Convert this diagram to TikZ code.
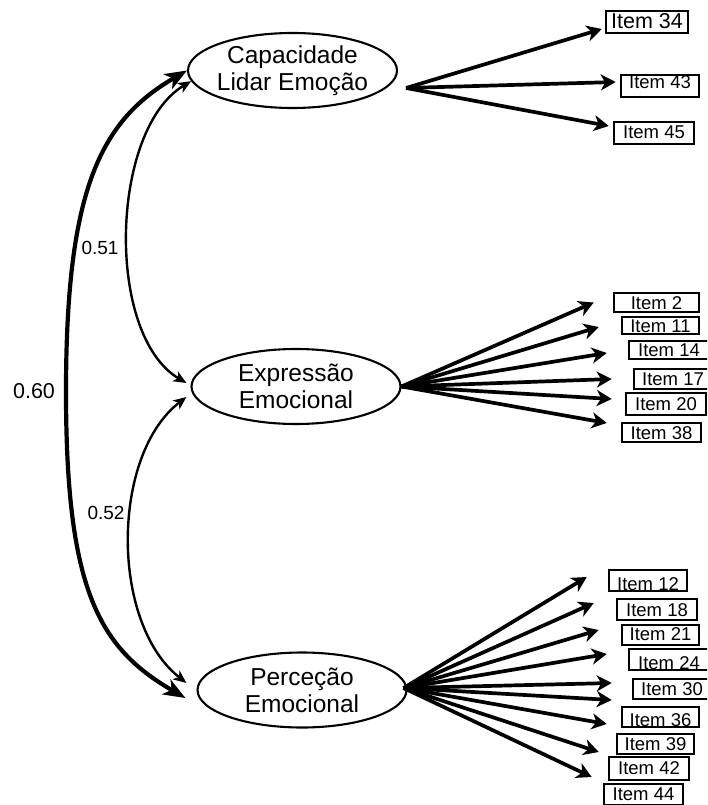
\documentclass[tikz,border=0pt]{standalone}
\usepackage{fontspec}
\setmainfont{Liberation Sans}
\usetikzlibrary{arrows.meta,shapes.geometric}
\begin{document}
\begin{tikzpicture}[x=1pt,y=-1pt,
  latent/.style={ellipse, draw, line width=2.1pt, minimum width=209pt, minimum height=75pt,
    inner xsep=-4pt, inner ysep=0pt, align=center, font=\fontsize{24.5}{27}\selectfont},
  itembox/.style={rectangle, draw, line width=2.5pt, inner sep=0pt,
    text height=13.5pt, text depth=0pt, font=\fontsize{18.5}{20}\selectfont},
  fan/.style={line width=3.7pt, -{Stealth[length=15pt,width=16pt,inset=4.5pt]}},
  covthin/.style={line width=2.4pt,
    {Stealth[length=13pt,width=11pt,inset=3.5pt]}-{Stealth[length=13pt,width=11pt,inset=3.5pt]}},
  covthick/.style={line width=4.2pt,
    {Stealth[length=22pt,width=17pt,inset=6pt]}-{Stealth[length=22pt,width=17pt,inset=6pt]}},
  coef/.style={inner sep=0pt, font=\fontsize{19}{21}\selectfont}
]
\clip (0,0) rectangle (707,805);

% latent factors
\node[latent] (cap) at (292.5,70.5) {Capacidade\\Lidar Emoção};
\node[latent] (exp) at (296,386.5) {Expressão\\Emocional};
\node[latent] (per) at (302,690) {Perceção\\Emocional};

% observed items: name / centre x / centre y / width / height / text raise
\node[itembox, minimum width=82pt, minimum height=22pt, font=\fontsize{21.5}{23}\selectfont]
  (i34) at (647,22) {Item 34};
\foreach \n/\cx/\cy/\w/\h/\r in {
    43/660/86/78/22/4, 45/654/133/80/22/1,
    2/656.5/302.5/85/19/0, 11/660.5/325.5/77/17/0, 14/669/350/80/18/0,
    17/673/379/78/20/0, 20/666/404/80/22/0, 38/661.5/432.5/79/19/0,
    12/648/580.5/78/21/-3, 18/657/609.5/80/21/0, 21/660.5/635/77/20/1,
    24/669/659.5/80/21/-3, 30/672/689/78/20/0, 36/660.5/717/77/20/-3,
    39/655.5/744/77/20/0, 42/649/768.5/80/23/1, 44/643.5/794.5/79/21/1}
  \node[itembox, minimum width=\w pt, minimum height=\h pt] (i\n) at (\cx,\cy)
    {\raisebox{\r pt}{Item \n}};

% loadings of Capacidade Lidar Emoção
\coordinate (capfan) at ([xshift=8pt,yshift=-17.5pt]cap.east);
\foreach \n/\dx/\dy in {34/-3/7, 43/-4/-4, 45/-4/-7}
  \draw[fan] (capfan) -- ([shift={(\dx,\dy)}]i\n.west);

% loadings of Expressão Emocional
\foreach \n/\dx/\dy in {2/-19/0, 11/-22/1.5, 14/-21/3, 17/-21/0, 20/-13/-5, 38/-14/-9.5}
  \draw[fan] (exp.east) -- ([shift={(\dx,\dy)}]i\n.west);

% loadings of Perceção Emocional
\foreach \n/\dx/\dy in {12/-21/-3.5, 18/-22/-6.5, 21/-22/-5, 24/-21/-5.5, 30/-20/-6,
    36/-9/-17, 39/-9/-20, 42/-9/-16.5, 44/-11/-17.5}
  \draw[fan] ([xshift=-4pt,yshift=2pt]per.east) -- ([shift={(\dx,\dy)}]i\n.west);

% correlations between factors
\draw[covthick] (cap.west) .. controls (100,121) and (66,190) .. (66,392)
  .. controls (66,590) and (99,648) .. ([shift={(-11,8)}]per.west);
\draw[covthin] (cap.186) .. controls (110,130) and (105,335) .. ([shift={(-4,-3.5)}]exp.west);
\draw[covthin] ([shift={(-4,10.5)}]exp.west) .. controls (111,455) and (110,623) .. ([shift={(-10,-7)}]per.west);

\node[coef] (r51) at (100,248) {0.51};
\node[coef] (r52) at (106,513) {0.52};
\node[coef, font=\fontsize{21.5}{23}\selectfont] (r60) at (34,391) {0.60};
\end{tikzpicture}
\end{document}
